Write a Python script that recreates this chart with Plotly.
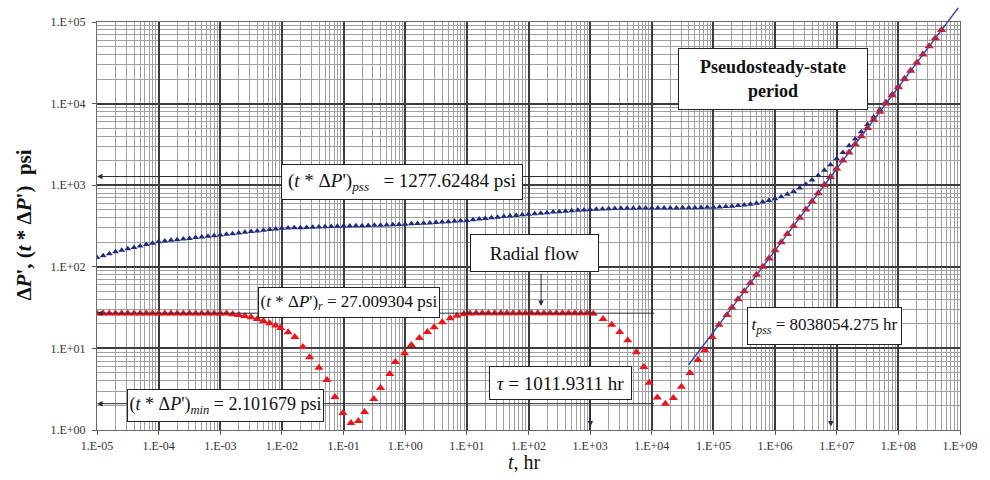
import math
import plotly.graph_objects as go

# ---------------------------------------------------------------------------
# Pressure change ΔP (psi) versus time (log10 of hours)
# ---------------------------------------------------------------------------
dp_log_t = [
    -5.0, -4.9, -4.8, -4.7, -4.6, -4.5, -4.4, -4.3, -4.2, -4.1,
    -4.0, -3.9, -3.8, -3.7, -3.6, -3.5, -3.4, -3.3, -3.2, -3.1,
    -3.0, -2.9, -2.8, -2.7, -2.6, -2.5, -2.4, -2.3, -2.2, -2.1,
    -2.0, -1.9, -1.8, -1.7, -1.6, -1.5, -1.4, -1.3, -1.2, -1.1,
    -1.0, -0.9, -0.8, -0.7, -0.6, -0.5, -0.4, -0.3, -0.2, -0.1,
    0.0, 0.1, 0.2, 0.3, 0.4, 0.5, 0.6, 0.7, 0.8, 0.9,
    1.0, 1.1, 1.2, 1.3, 1.4, 1.5, 1.6, 1.7, 1.8, 1.9,
    2.0, 2.1, 2.2, 2.3, 2.4, 2.5, 2.6, 2.7, 2.8, 2.9,
    3.0, 3.1, 3.2, 3.3, 3.4, 3.5, 3.6, 3.7, 3.8, 3.9,
    4.0, 4.1, 4.2, 4.3, 4.4, 4.5, 4.6, 4.7, 4.8, 4.9,
    5.0, 5.1, 5.2, 5.3, 5.4, 5.5, 5.6, 5.7, 5.8, 5.9,
    6.0, 6.1, 6.2, 6.3, 6.4, 6.5, 6.6, 6.7, 6.8, 6.9,
    7.0, 7.1, 7.2, 7.3, 7.4, 7.5, 7.6, 7.7, 7.8, 7.9,
    8.0, 8.1, 8.2, 8.3, 8.4, 8.5, 8.6, 8.7,
]
dp_psi = [
    130, 137, 145, 153, 160, 167, 173, 180, 187, 195,
    203, 207, 211, 215, 219, 223, 228, 232, 236, 241,
    245, 250, 255, 260, 265, 270, 275, 280, 286, 291,
    296, 298, 300, 302, 304, 306, 308, 310, 312, 314,
    316, 317, 318, 319, 320, 322, 323, 325, 327, 330,
    333, 336, 339, 342, 345, 349, 353, 357, 361, 366,
    370, 377, 384, 391, 398, 405, 412, 419, 426, 433,
    440, 447, 454, 461, 468, 474, 480, 486, 492, 498,
    503, 508, 512, 515, 518, 520, 522, 523, 524, 525,
    525, 526, 526, 527, 527, 528, 529, 530, 532, 535,
    538, 542, 547, 554, 562, 572, 585, 602, 622, 648,
    681, 722, 774, 839, 921, 1025, 1155, 1319, 1525, 1785,
    2112, 2524, 3042, 3694, 4516, 5550, 6852, 8491, 10554, 13152,
    16422, 20540, 25720, 32250, 40460, 50800, 63820, 80210,
]

# ---------------------------------------------------------------------------
# Pressure derivative t*ΔP' (psi) versus time (log10 of hours)
# ---------------------------------------------------------------------------
der_log_t = [
    -5.0, -4.9, -4.8, -4.7, -4.6, -4.5, -4.4, -4.3, -4.2, -4.1,
    -4.0, -3.9, -3.8, -3.7, -3.6, -3.5, -3.4, -3.3, -3.2, -3.1,
    -3.0, -2.9, -2.8, -2.7, -2.6, -2.5, -2.4, -2.3, -2.2, -2.1,
    -2.02, -1.90, -1.79, -1.66, -1.55, -1.40, -1.27, -1.14, -1.01, -0.88,
    -0.76, -0.66, -0.51, -0.40, -0.25, -0.16, -0.01, 0.10, 0.23, 0.36,
    0.47, 0.60, 0.73, 0.84, 0.95,
    1.05, 1.15, 1.25, 1.35, 1.45, 1.55, 1.65, 1.75, 1.85, 1.95,
    2.05, 2.15, 2.25, 2.35, 2.45, 2.55, 2.65, 2.75, 2.85, 2.95, 3.05,
    3.21, 3.35, 3.48, 3.61, 3.75, 3.87, 3.96, 4.09, 4.22, 4.35,
    4.48, 4.62, 4.75, 4.86, 4.98, 5.09, 5.22,
    5.3, 5.4, 5.5, 5.6, 5.7, 5.8, 5.9,
    6.0, 6.1, 6.2, 6.3, 6.4, 6.5, 6.6, 6.7, 6.8, 6.9,
    7.0, 7.1, 7.2, 7.3, 7.4, 7.5, 7.6, 7.7, 7.8, 7.9,
    8.0, 8.1, 8.2, 8.3, 8.4, 8.5, 8.6, 8.7,
]
der_psi = [
    26.8, 26.8, 26.8, 26.8, 26.8, 26.8, 26.8, 26.8, 26.8, 26.8,
    26.8, 26.8, 26.8, 26.8, 26.8, 26.8, 26.8, 26.8, 26.8, 26.8,
    26.8, 26.8, 26.3, 25.7, 25.0, 24.0, 22.9, 21.7, 20.4, 19.1,
    17.8, 15.8, 13.8, 10.4, 7.8, 5.8, 4.1, 2.54, 1.61, 1.22,
    1.29, 1.66, 2.4, 3.27, 4.86, 6.8, 8.7, 11.0, 13.4, 15.9,
    18.2, 20.9, 23.4, 25.2, 26.4,
    26.8, 26.9, 27.0, 27.0, 27.0, 27.0, 27.0, 27.0, 27.0, 27.0,
    27.0, 27.0, 27.0, 27.0, 27.0, 27.0, 27.0, 27.0, 27.0, 26.9, 26.5,
    23.0, 19.5, 15.9, 12.6, 9.0, 5.9, 3.8, 2.5, 2.101679, 2.46,
    3.4, 5.0, 7.2, 9.5, 13.8, 19.5, 25.7,
    31.7, 39.9, 50.3, 63.3, 79.7, 100.3, 126.3,
    159, 200, 252, 317, 399, 503, 633, 797, 1003, 1263,
    1590, 2002, 2520, 3172, 3994, 5028, 6330, 7969, 10032, 12630,
    15900, 20017, 25200, 31725, 39940, 50280, 63300, 79690,
]

# Unit-slope (pseudosteady-state) straight line, end points
pss_line_t = [3.8e4, 9.4e8]
pss_line_psi = [6.04, 1.494e5]

# Characteristic values
PSS_DERIV = 1277.62484      # (t*ΔP')pss, psi
RADIAL_DERIV = 27.009304    # (t*ΔP')r, psi
MIN_DERIV = 2.101679        # (t*ΔP')min, psi
TAU_HR = 1011.9311          # τ, hr
T_PSS_HR = 8038054.275      # tpss, hr

# Auxiliary guide positions
guide_end_t = 1.15e4        # right end of the radial / minimum guide lines
radial_arrow_t = 160.0
radial_arrow_psi = [86.0, 33.0]
arrow_bottom_psi = 1.1

# Axis ticks
x_tick_vals = [1e-5, 1e-4, 1e-3, 1e-2, 1e-1, 1e0, 1e1, 1e2, 1e3, 1e4,
               1e5, 1e6, 1e7, 1e8, 1e9]
x_tick_labels = ["1.E-05", "1.E-04", "1.E-03", "1.E-02", "1.E-01", "1.E+00",
                 "1.E+01", "1.E+02", "1.E+03", "1.E+04", "1.E+05", "1.E+06",
                 "1.E+07", "1.E+08", "1.E+09"]
y_tick_vals = [1e0, 1e1, 1e2, 1e3, 1e4, 1e5]
y_tick_labels = ["1.E+00", "1.E+01", "1.E+02", "1.E+03", "1.E+04", "1.E+05"]

SERIF = "Liberation Serif, Times New Roman, serif"
BLUE = "#1f2c7c"
RED = "#e8161d"
LINE = "#2a2a3a"

lg = math.log10

fig = go.Figure()

fig.add_trace(go.Scatter(
    x=[10 ** e for e in dp_log_t], y=dp_psi, mode="markers",
    marker=dict(symbol="triangle-up", size=6, color=BLUE, line=dict(width=0)),
    name="ΔP", showlegend=False, hoverinfo="skip",
))
fig.add_trace(go.Scatter(
    x=[10 ** e for e in der_log_t], y=der_psi, mode="markers",
    marker=dict(symbol="triangle-up", size=8, color=RED, line=dict(width=0)),
    name="t*ΔP'", showlegend=False, hoverinfo="skip",
))


def arrow(x_head, y_head, x_tail, y_tail, head=2, color=LINE, width=1.0):
    """Straight guide line drawn in data space, optional head at (x_head, y_head)."""
    return dict(
        x=lg(x_head), y=lg(y_head), ax=lg(x_tail), ay=lg(y_tail),
        xref="x", yref="y", axref="x", ayref="y",
        text="", showarrow=True, arrowhead=head, arrowsize=1.1,
        arrowwidth=width, arrowcolor=color, standoff=0, startstandoff=0,
    )


annotations = [
    # unit-slope straight line
    arrow(pss_line_t[1], pss_line_psi[1], pss_line_t[0], pss_line_psi[0],
          head=0, color="#3b4aa6", width=1.4),
    # (t*ΔP')pss horizontal guide
    arrow(1e-5, PSS_DERIV, T_PSS_HR, PSS_DERIV),
    # tpss vertical guide
    arrow(T_PSS_HR, arrow_bottom_psi, T_PSS_HR, PSS_DERIV),
    # radial-flow derivative guide
    arrow(1e-5, RADIAL_DERIV, guide_end_t, RADIAL_DERIV),
    # minimum derivative guide
    arrow(1e-5, MIN_DERIV, guide_end_t, MIN_DERIV),
    # τ vertical guide
    arrow(TAU_HR, arrow_bottom_psi, TAU_HR, RADIAL_DERIV),
    # radial flow pointer
    arrow(radial_arrow_t, radial_arrow_psi[1], radial_arrow_t, radial_arrow_psi[0]),
]

# plot area in pixels: x 97..967, y 22..430
PL, PR, PT, PB = 97, 967, 22, 430


def px(xp):
    return (xp - PL) / (PR - PL)


def py(yp):
    return (PB - yp) / (PB - PT)


def box(text, cx, cy, w, h, size=19, bold=False):
    return dict(
        text=f"<b>{text}</b>" if bold else text,
        x=px(cx), y=py(cy), xref="paper", yref="paper",
        xanchor="center", yanchor="middle", showarrow=False,
        width=w - 2, height=h - 2, align="center", valign="middle",
        bgcolor="white", bordercolor="#222", borderwidth=1, borderpad=0,
        font=dict(family=SERIF, size=size, color="#111"),
    )


annotations += [
    box(f"(<i>t</i> * Δ<i>P</i>')<sub><i>pss</i></sub>   = {PSS_DERIV} psi",
        404, 182, 242, 36),
    box("Pseudosteady-state<br>period", 778, 79, 190, 62, size=18, bold=True),
    box("Radial flow", 538.5, 253, 129, 38),
    box(f"(<i>t</i> * Δ<i>P</i>')<sub><i>r</i></sub> = {RADIAL_DERIV} psi",
        351, 302.5, 182, 31, size=17),
    box(f"(<i>t</i> * Δ<i>P</i>')<sub><i>min</i></sub> = {MIN_DERIV} psi",
        226.5, 405.5, 197, 33, size=18),
    box(f"<i>τ</i> = {TAU_HR} hr", 564.5, 383, 143, 34),
    box(f"<i>t</i><sub><i>pss</i></sub> = {T_PSS_HR} hr", 830.5, 326, 155, 38, size=17),
    # axis titles
    dict(text="<b>Δ<i>P</i>', (<i>t</i> * Δ<i>P</i>')  psi</b>",
         x=px(23), y=py(225), xref="paper", yref="paper", textangle=-90,
         showarrow=False, xanchor="center", yanchor="middle",
         font=dict(family=SERIF, size=21, color="#111")),
    dict(text="<i>t</i>, hr", x=px(528), y=py(462), xref="paper", yref="paper",
         showarrow=False, xanchor="center", yanchor="middle",
         font=dict(family=SERIF, size=20, color="#111")),
]

axis_common = dict(
    type="log",
    showgrid=True, gridcolor="#3c3c3c", gridwidth=1.5,
    minor=dict(showgrid=True, gridcolor="#a0a0a0", gridwidth=0.7, dtick="D1", ticks=""),
    showline=True, linecolor="#6a6a6a", linewidth=1.2, mirror=True,
    ticks="outside", ticklen=4, tickcolor="#555",
    tickfont=dict(family=SERIF, size=12, color="#333"),
    zeroline=False,
)

fig.update_layout(
    width=990, height=480, autosize=False,
    margin=dict(l=PL, r=990 - PR, t=PT, b=480 - PB),
    paper_bgcolor="white", plot_bgcolor="white",
    xaxis=dict(axis_common, range=[-5, 9], tickmode="array",
               tickvals=x_tick_vals, ticktext=x_tick_labels),
    yaxis=dict(axis_common, range=[0, 5], tickmode="array",
               tickvals=y_tick_vals, ticktext=y_tick_labels, ticklabelstandoff=4),
    annotations=annotations,
    showlegend=False,
)

fig.write_html("out.html")
